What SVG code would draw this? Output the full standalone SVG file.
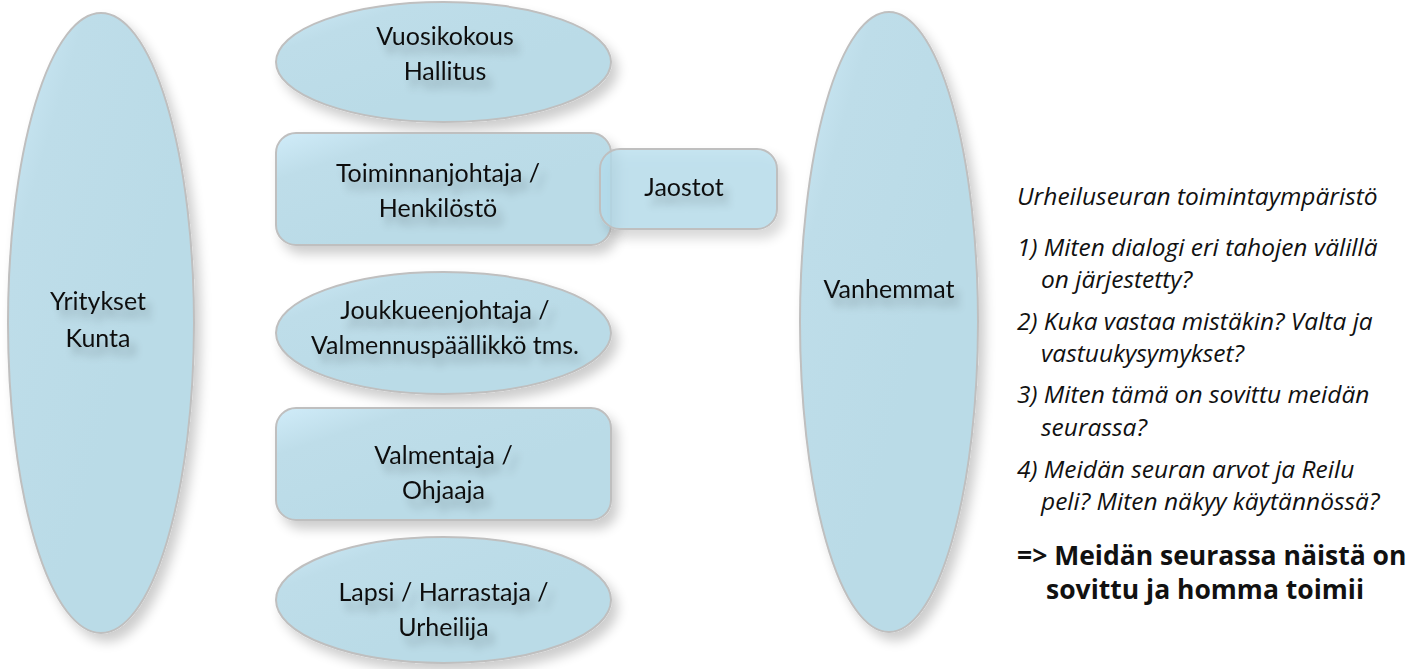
<svg xmlns="http://www.w3.org/2000/svg" width="1417" height="669" viewBox="0 0 1417 669">
<defs>
<linearGradient id="fillg" x1="0" y1="0" x2="0.6" y2="0.6">
<stop offset="0" stop-color="#d0ecf9"/>
<stop offset="0.35" stop-color="#bedde9"/>
<stop offset="1" stop-color="#badbe7"/>
</linearGradient>
<filter id="shadow" x="-20%" y="-20%" width="150%" height="150%">
<feGaussianBlur in="SourceAlpha" stdDeviation="6"/>
<feOffset dx="6" dy="8" result="b"/>
<feComponentTransfer><feFuncA type="linear" slope="0.2"/></feComponentTransfer>
<feMerge><feMergeNode/><feMergeNode in="SourceGraphic"/></feMerge>
</filter>
<filter id="tshadow" x="-20%" y="-50%" width="140%" height="220%">
<feGaussianBlur in="SourceAlpha" stdDeviation="4"/>
<feOffset dx="6" dy="9" result="b"/>
<feComponentTransfer><feFuncA type="linear" slope="0.25"/></feComponentTransfer>
<feMerge><feMergeNode/><feMergeNode in="SourceGraphic"/></feMerge>
</filter>
</defs>
<style>
.shape{fill:url(#fillg);stroke:#bfbfbf;stroke-width:2;filter:url(#shadow)}
.trans{fill:#b3dcec;fill-opacity:0.75;stroke:#bfbfbf;stroke-width:2;filter:url(#shadow)}
.lbl{font-family:Lato,"Open Sans","DejaVu Sans",sans-serif;font-size:25px;fill:#111;text-anchor:middle;filter:url(#tshadow)}
.it{font-family:"Open Sans",Lato,"DejaVu Sans",sans-serif;font-size:24.5px;font-style:italic;fill:#111}
.bd{font-family:"Open Sans",Lato,"DejaVu Sans",sans-serif;font-size:26.5px;font-weight:bold;fill:#111}
</style>
<rect width="1417" height="669" fill="#ffffff"/>
<g id="connectors"></g>
<g id="yritykset">
<ellipse class="shape" cx="101" cy="323" rx="93" ry="310"/>
<text class="lbl" x="98" y="310">Yritykset</text>
<text class="lbl" x="98" y="347">Kunta</text>
</g>
<g id="vuosikokous">
<ellipse class="shape" cx="443.5" cy="62" rx="167.5" ry="60"/>
<text class="lbl" x="445" y="45">Vuosikokous</text>
<text class="lbl" x="445" y="80">Hallitus</text>
</g>
<g id="toiminnanjohtaja">
<rect class="shape" x="276" y="133" width="335" height="112" rx="20"/>
<text class="lbl" x="438" y="182">Toiminnanjohtaja /</text>
<text class="lbl" x="438" y="217">Henkilöstö</text>
</g>
<g id="jaostot">
<rect class="trans" x="600" y="149" width="177" height="80" rx="20"/>
<text class="lbl" x="684" y="196">Jaostot</text>
</g>
<g id="joukkueenjohtaja">
<ellipse class="shape" cx="443.5" cy="333" rx="167.5" ry="61"/>
<text class="lbl" x="445" y="319">Joukkueenjohtaja /</text>
<text class="lbl" x="445" y="354">Valmennuspäällikkö tms.</text>
</g>
<g id="valmentaja">
<rect class="shape" x="276" y="408" width="335" height="112" rx="20"/>
<text class="lbl" x="443.5" y="464">Valmentaja /</text>
<text class="lbl" x="443.5" y="499">Ohjaaja</text>
</g>
<g id="lapsi">
<ellipse class="shape" cx="443.5" cy="600" rx="167.5" ry="63"/>
<text class="lbl" x="443.5" y="601">Lapsi / Harrastaja /</text>
<text class="lbl" x="443.5" y="636">Urheilija</text>
</g>
<g id="vanhemmat">
<ellipse class="shape" cx="889" cy="322" rx="89" ry="310"/>
<text class="lbl" x="889" y="298">Vanhemmat</text>
</g>
<g id="notes">
<text class="it" x="1017" y="205">Urheiluseuran toimintaympäristö</text>
<text class="it" x="1017" y="256">1) Miten dialogi eri tahojen välillä</text>
<text class="it" x="1041" y="288">on järjestetty?</text>
<text class="it" x="1017" y="330">2) Kuka vastaa mistäkin? Valta ja</text>
<text class="it" x="1041" y="362">vastuukysymykset?</text>
<text class="it" x="1017" y="403">3) Miten tämä on sovittu meidän</text>
<text class="it" x="1041" y="436">seurassa?</text>
<text class="it" x="1017" y="478">4) Meidän seuran arvot ja Reilu</text>
<text class="it" x="1041" y="510">peli? Miten näkyy käytännössä?</text>
<text class="bd" x="1017" y="565">=&gt; Meidän seurassa näistä on</text>
<text class="bd" x="1046" y="599">sovittu ja homma toimii</text>
</g>
</svg>
